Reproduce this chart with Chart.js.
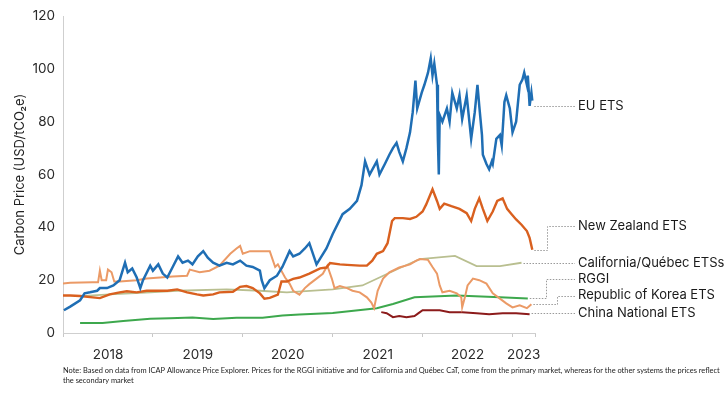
<!DOCTYPE html>
<html><head><meta charset="utf-8">
<script src="https://cdn.jsdelivr.net/npm/chart.js@4"></script>
<style>html,body{margin:0;padding:0;background:#fff}#wrap{width:727px;height:396px;position:relative}</style>
</head><body><div id="wrap"><canvas id="c" width="727" height="396"></canvas></div>
<script>
// ---- data (decimal years, USD/tCO2e) ----
const euT = [2018.01,2018.08,2018.19,2018.24,2018.30,2018.38,2018.41,2018.49,2018.56,2018.63,2018.69,2018.72,2018.77,2018.82,2018.86,2018.89,2018.97,2019.00,2019.06,2019.11,2019.16,2019.22,2019.28,2019.33,2019.39,2019.44,2019.50,2019.56,2019.61,2019.67,2019.74,2019.82,2019.89,2019.97,2020.04,2020.11,2020.19,2020.21,2020.24,2020.30,2020.38,2020.44,2020.52,2020.56,2020.63,2020.69,2020.74,2020.82,2020.93,2021.00,2021.11,2021.19,2021.27,2021.32,2021.36,2021.41,2021.49,2021.52,2021.58,2021.63,2021.67,2021.71,2021.74,2021.78,2021.82,2021.86,2021.89,2021.92,2021.94,2021.99,2022.02,2022.06,2022.09,2022.11,2022.13,2022.16,2022.17,2022.18,2022.19,2022.22,2022.27,2022.30,2022.33,2022.38,2022.41,2022.44,2022.49,2022.52,2022.54,2022.58,2022.61,2022.63,2022.66,2022.67,2022.71,2022.74,2022.77,2022.78,2022.82,2022.86,2022.88,2022.91,2022.93,2022.97,2023.00,2023.04,2023.08,2023.11,2023.13,2023.16,2023.17,2023.19,2023.21,2023.22];
const euV = [8.6,10,12.4,15,15.4,16,17,17,18,20,26.6,23,24.4,21,17,20,25.5,23.6,26,22.5,21,25,29,26.6,27.4,26,29,31,28.5,26.6,25.5,26.6,26,27.4,25.5,25,23.6,20,17,20,21.7,25,31,29,30,32,34,26,32,37.5,45,47,50,56,65,60,65,60,64,67.5,70,72,68.6,65,70,76,83.6,95.6,85,91,94,98.6,104,97.5,102,94,73,60,82.5,80,85,80,91,85,90,81,90,80,73.5,83.6,94,86,75,67.5,64,62,65,64,73.5,75,71,87.5,90,85,76,80,94,96,98.6,94,97.5,86,91,88];

const nzT = [2018.00,2018.08,2018.19,2018.33,2018.41,2018.52,2018.63,2018.71,2018.82,2018.93,2019.04,2019.16,2019.27,2019.38,2019.49,2019.56,2019.67,2019.74,2019.89,2019.97,2020.04,2020.11,2020.19,2020.24,2020.30,2020.39,2020.43,2020.49,2020.56,2020.63,2020.74,2020.86,2020.93,2020.97,2021.08,2021.16,2021.30,2021.38,2021.44,2021.49,2021.56,2021.61,2021.66,2021.69,2021.78,2021.86,2021.93,2022.00,2022.04,2022.11,2022.16,2022.19,2022.24,2022.32,2022.41,2022.49,2022.54,2022.58,2022.63,2022.67,2022.72,2022.78,2022.83,2022.89,2022.94,2022.99,2023.04,2023.10,2023.16,2023.19,2023.22];
const nzV = [14.2,14.2,14,13.5,13.2,14.6,15.4,15.8,15.4,16,16,16,16.5,15.4,14.6,14.2,14.6,15.4,15.6,17.5,17.8,17,15,13,13.3,14.5,19.5,19.5,20.5,21,22.5,24.5,24.8,26.5,26,25.8,25.5,25.5,27.4,30,31,34,42.4,43.5,43.5,43.2,44,46,48.7,54.4,50,47,49,48,47,45.4,42.4,47,51,47,42.4,46,50,51,47,45,43,41,38.6,36,31.5];

const calT = [2018.19,2018.52,2018.97,2019.27,2019.82,2020.19,2020.49,2021.00,2021.33,2021.52,2021.74,2021.97,2022.36,2022.60,2022.86,2023.10];
const calV = [14,14.6,15.4,16,16.5,16,15.4,16.5,18,21,24.5,28,29.2,25.3,25.3,26.6];

const rggiT = [2018.19,2018.44,2018.67,2018.97,2019.19,2019.44,2019.67,2019.93,2020.22,2020.44,2020.63,2021.00,2021.49,2021.67,2021.91,2022.38,2022.86,2023.17];
const rggiV = [3.8,3.8,4.5,5.4,5.6,5.9,5.3,5.8,5.8,6.6,7,7.6,9.4,11,13.5,14.2,13.5,13.1];

const korT = [2018.00,2018.08,2018.33,2018.39,2018.41,2018.43,2018.48,2018.50,2018.54,2018.57,2018.63,2018.82,2018.93,2019.08,2019.22,2019.38,2019.41,2019.52,2019.63,2019.74,2019.86,2019.93,2019.97,2020.00,2020.08,2020.19,2020.30,2020.33,2020.36,2020.39,2020.47,2020.52,2020.56,2020.63,2020.69,2020.74,2020.82,2020.89,2020.94,2020.99,2021.02,2021.08,2021.16,2021.22,2021.30,2021.38,2021.43,2021.46,2021.50,2021.56,2021.63,2021.74,2021.86,2021.93,2021.97,2022.06,2022.11,2022.16,2022.19,2022.22,2022.30,2022.38,2022.43,2022.44,2022.47,2022.50,2022.56,2022.63,2022.71,2022.78,2022.86,2022.93,2023.00,2023.08,2023.16,2023.21];
const korV = [18.7,19,19.2,19.2,23.6,20,20,24,23,19.5,19.5,20,20.6,21,21.4,21.7,24,23,23.6,25.5,30,32,33,30,31,31,31,28,25,26,21,18.7,16,14.5,17,18.5,20.6,22.4,25.5,20.6,17,17.8,17,16,15.4,13.5,11.5,9.4,16,20.6,23,24.8,26,27.4,28,27.7,25,22.5,18,15.4,16,15,13.5,9.7,13.5,18,20.6,20,18.7,15,13,11.2,9.7,10.5,9.4,10.9];

const chnT = [2021.54,2021.60,2021.67,2021.74,2021.82,2021.91,2021.97,2022.00,2022.19,2022.30,2022.44,2022.60,2022.74,2022.89,2023.04,2023.19];
const chnV = [7.9,7.5,6,6.4,6,6.4,7.9,8.6,8.6,7.9,7.9,7.5,7.1,7.5,7.5,7.1];

const seriesNames = ['EU ETS','New Zealand ETS','California/Québec ETSs','RGGI','Republic of Korea ETS','China National ETS'];
const yearLabels = ['2018','2019','2020','2021','2022','2023'];
const yearLabelPos = [2018.5,2019.5,2020.5,2021.5,2022.5,2023.125];
const yearTickPos = [2018,2019,2020,2021,2022,2023,2023.25];
const yTitle = 'Carbon Price (USD/tCO₂e)';
const noteLines = ['Note: Based on data from ICAP Allowance Price Explorer. Prices for the RGGI initiative and for California and Québec CaT, come from the primary market, whereas for the other systems the prices reflect','the secondary market'];

// ---- styling / layout (not data) ----
const colors = ['#1f6eb4','#d9601f','#b9bf90','#3da84d','#eb9a66','#8c1b1b'];
const widths = [2.5,2.4,1.8,2,2,2];
const labelCfg = [
  {ds:0, y:86, elbow:null},
  {ds:1, y:40.6, elbow:2023.38},
  {ds:2, y:26.6, elbow:null},
  {ds:3, y:20.6, elbow:2023.37},
  {ds:4, y:14.2, elbow:2023.5},
  {ds:5, y:7.5, elbow:null}
];
const LABEL_X = 578, LEADER_END = 575;

function pts(t,v){ return t.map((x,i)=>({x:x, y:v[i]})); }
const order = [0,1,4,3,5,2];
const allData = [[euT,euV],[nzT,nzV],[calT,calV],[rggiT,rggiV],[korT,korV],[chnT,chnV]];
const datasets = order.map(i => ({
  label: seriesNames[i], idx:i,
  data: pts(allData[i][0], allData[i][1]),
  borderColor: colors[i], borderWidth: widths[i],
  pointRadius: 0, tension: 0, fill:false
}));

const tickVals = yearTickPos.concat(yearLabelPos).sort((a,b)=>a-b);

const annot = {
  id:'annot',
  afterDraw(chart){
    const ctx = chart.ctx, ys = chart.scales.y, xs = chart.scales.x;
    ctx.save();
    ctx.strokeStyle = '#9a9a9a'; ctx.lineWidth = 1; ctx.setLineDash([1.5,1.5]);
    labelCfg.forEach(c => {
      const dsi = chart.data.datasets.findIndex(d=>d.idx===c.ds);
      const meta = chart.getDatasetMeta(dsi);
      const last = meta.data[meta.data.length-1];
      const ly = Math.round(ys.getPixelForValue(c.y))+0.5;
      ctx.beginPath();
      if (c.elbow !== null) {
        const ex = Math.round(xs.getPixelForValue(c.elbow))+0.5;
        const sy = Math.round(last.y)+0.5;
        ctx.moveTo(last.x+2, sy); ctx.lineTo(ex, sy); ctx.lineTo(ex, ly); ctx.lineTo(LEADER_END, ly);
      } else {
        ctx.moveTo(last.x+2, ly); ctx.lineTo(LEADER_END, ly);
      }
      ctx.stroke();
    });
    ctx.setLineDash([]);
    ctx.fillStyle = '#1a1a1a'; ctx.font = '13px Inter'; ctx.textBaseline = 'middle'; ctx.textAlign='left';
    labelCfg.forEach(c => {
      ctx.fillText(seriesNames[c.ds], LABEL_X, ys.getPixelForValue(c.y));
    });
    let fs = 7;
    ctx.font = fs + 'px Lato';
    const w = ctx.measureText(noteLines[0]).width;
    fs = fs * 658 / w;
    ctx.font = fs.toFixed(2) + 'px Lato';
    ctx.fillStyle = '#222'; ctx.textBaseline='middle';
    ctx.fillText(noteLines[0], 63, 371);
    ctx.fillText(noteLines[1], 63, 381);
    ctx.restore();
  }
};

new Chart(document.getElementById('c'), {
  type:'line',
  data:{datasets},
  options:{
    responsive:false, animation:false, devicePixelRatio:1,
    layout:{padding:{top:13,right:192,bottom:0,left:0}},
    plugins:{legend:{display:false}, tooltip:{enabled:false}},
    scales:{
      x:{
        type:'linear', min:2018, max:2023.25,
        afterBuildTicks: s => { s.ticks = tickVals.map(v=>({value:v})); },
        ticks:{autoSkip:false, maxRotation:0, padding:10, color:'#2a2a2a', font:{family:'Inter', size:13.5},
          callback:(v)=>{ const i = yearLabelPos.indexOf(v); return i>=0 ? yearLabels[i] : ''; }},
        grid:{display:true, drawOnChartArea:false, drawTicks:true, tickLength:4, color:'rgba(0,0,0,0)',
          tickColor: c => (c.tick && yearTickPos.indexOf(c.tick.value)>=0) ? '#c8c8c8' : 'rgba(0,0,0,0)'},
        border:{display:true, color:'#cfcfcf', dash:[1,2], width:1},
        afterFit: s => { s.height = 63; }
      },
      y:{
        min:0, max:120,
        ticks:{stepSize:20, padding:8, color:'#2a2a2a', font:{family:'Inter', size:13.5}},
        grid:{display:false, drawTicks:false},
        border:{display:true, color:'#cfcfcf', dash:[1,2], width:1},
        title:{display:true, text:yTitle, color:'#222', font:{family:'Inter', size:13}, padding:{top:12,bottom:0}},
        afterFit: s => { s.width = 63; }
      }
    }
  },
  plugins:[annot]
});
</script></body></html>
